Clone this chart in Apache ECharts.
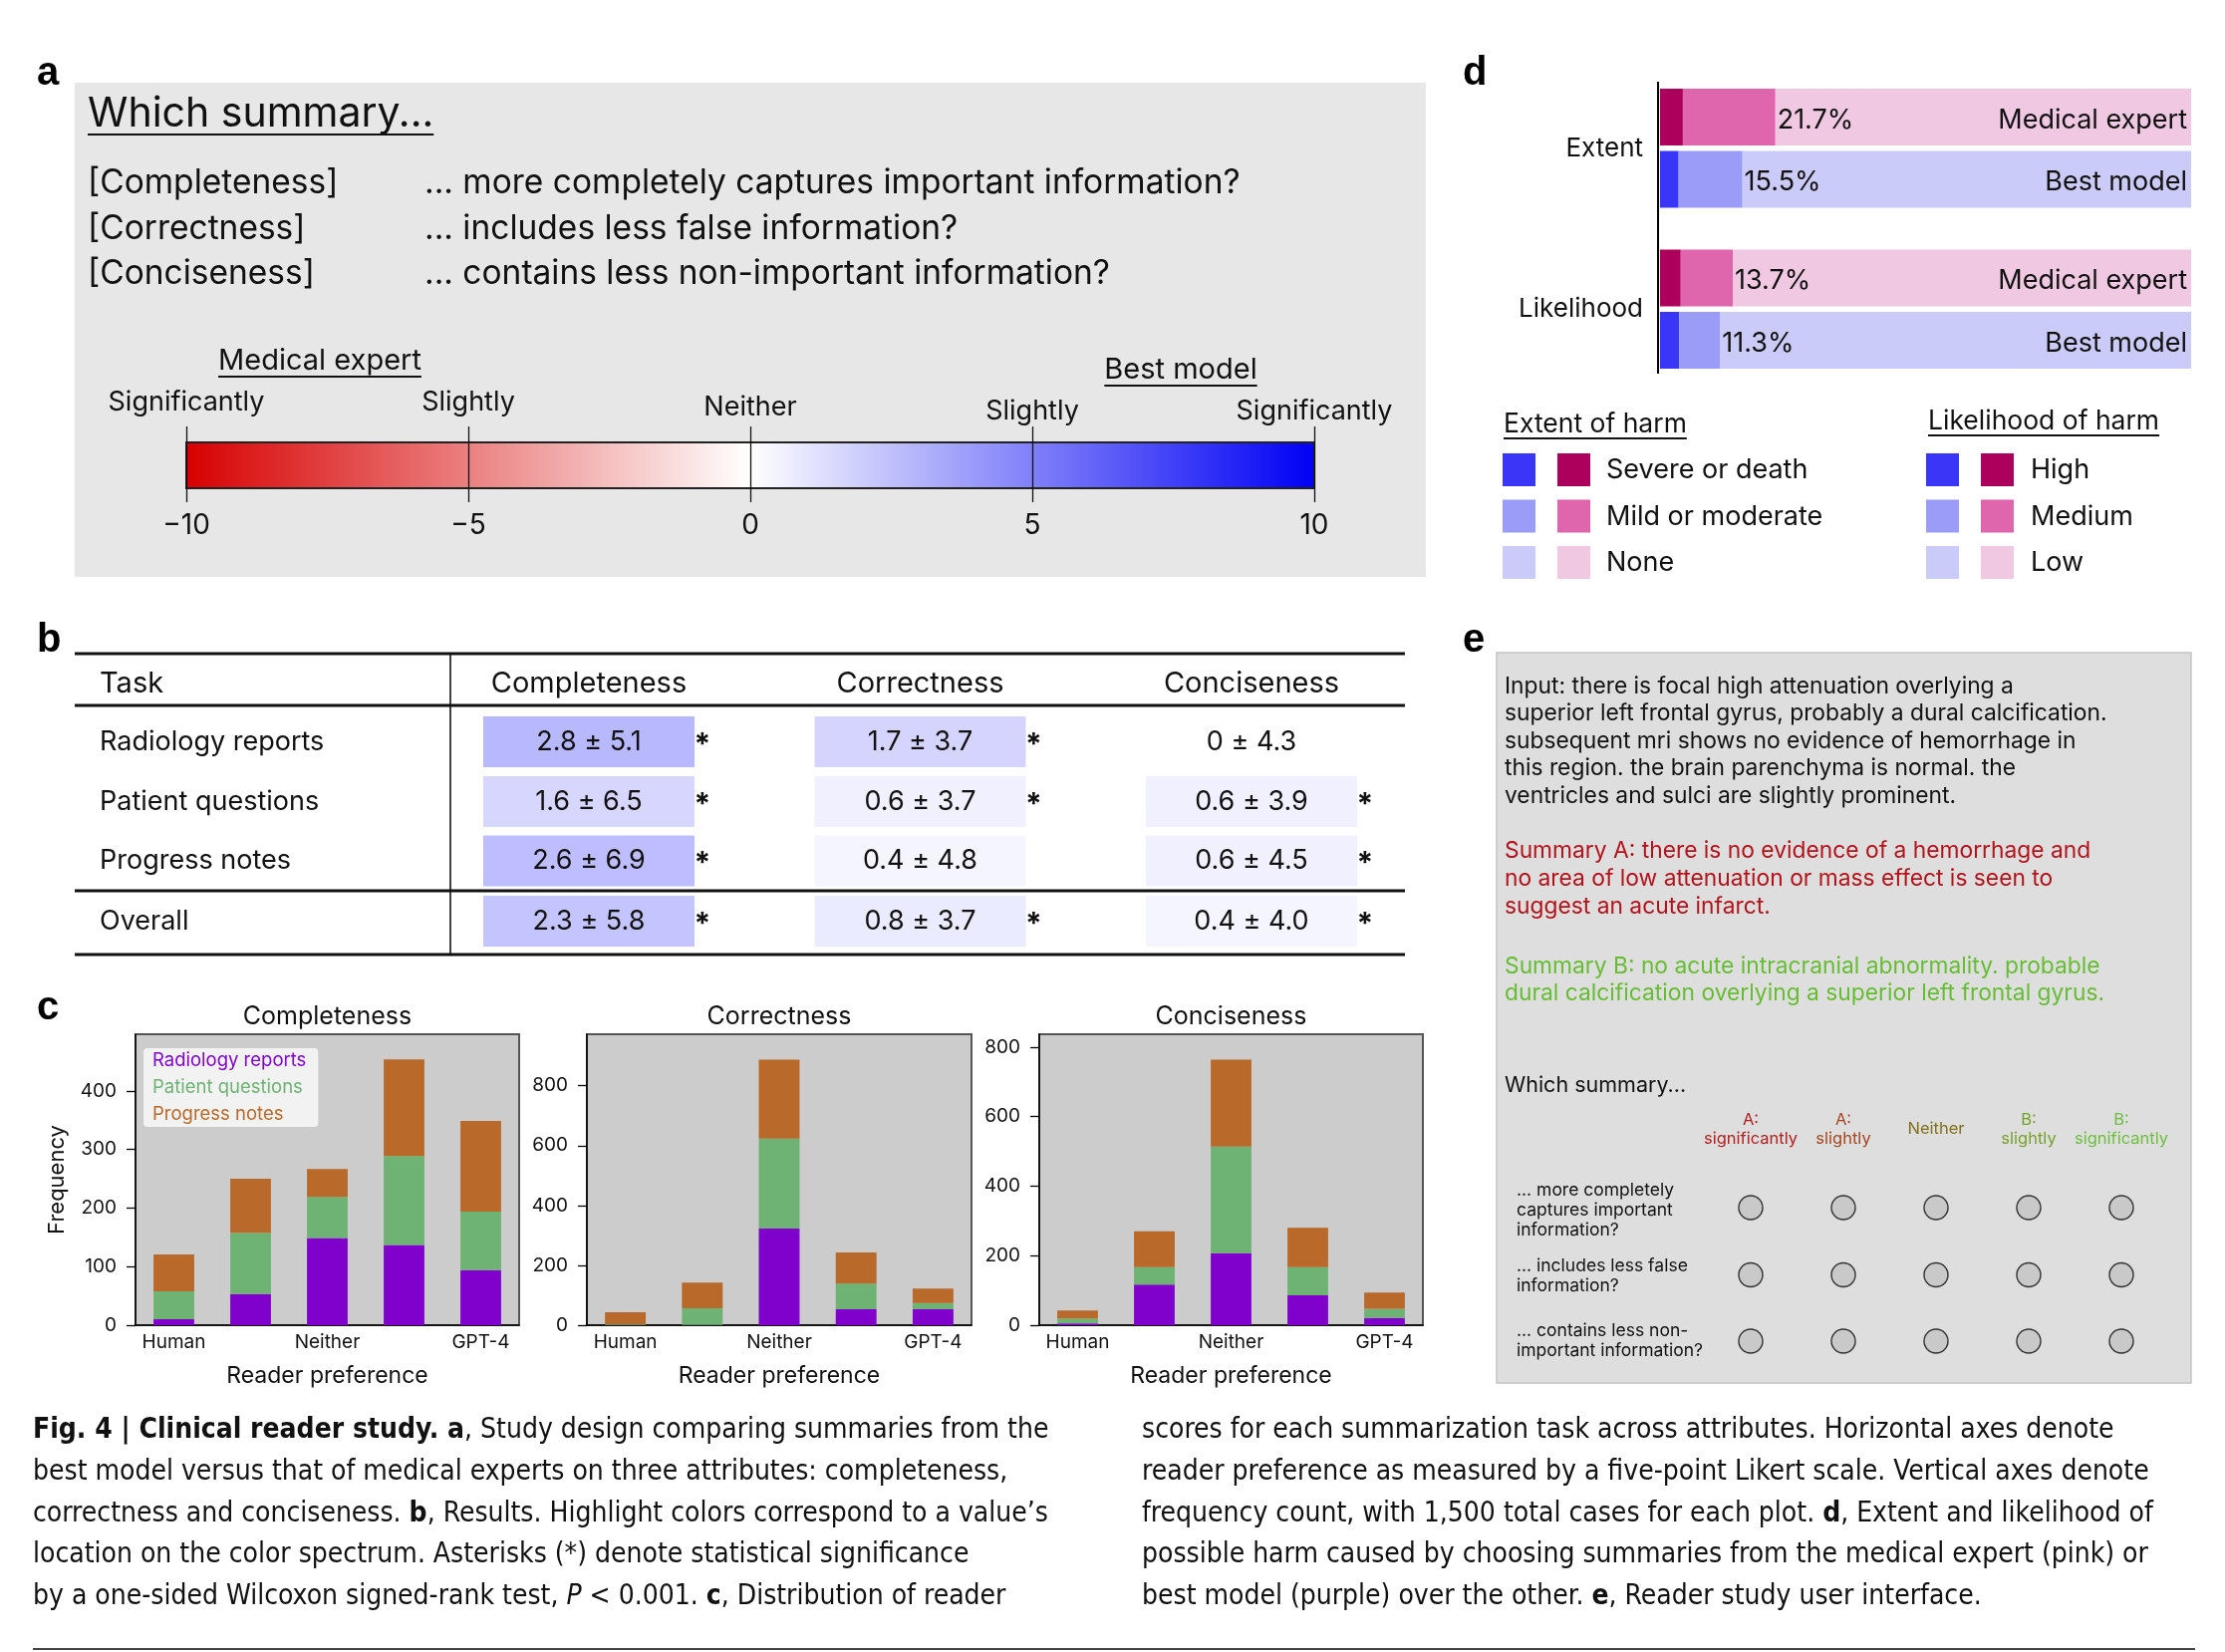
<!DOCTYPE html>
<html><head><meta charset="utf-8">
<script src="https://cdn.jsdelivr.net/npm/echarts@6/dist/echarts.min.js"></script>
<style>html,body{margin:0;padding:0;background:#fff}#chart{width:2233px;height:1658px}</style>
</head><body><div id="chart"></div>
<script>
// ---------------- DATA ----------------
// panel c : reader preference (5-point Likert) counts
const likertCategories = ['Human', 'Human (slightly)', 'Neither', 'GPT-4 (slightly)', 'GPT-4'];
const taskNames = ['Radiology reports', 'Patient questions', 'Progress notes'];
const attributeNames = ['Completeness', 'Correctness', 'Conciseness'];
const completenessRadiology = [10, 53, 149, 137, 94];
const completenessPatient   = [48, 105, 70, 152, 100];
const completenessProgress  = [63, 92, 48, 165, 155];
const correctnessRadiology  = [1, 1, 323, 53, 53];
const correctnessPatient    = [2, 56, 300, 86, 21];
const correctnessProgress   = [40, 85, 264, 104, 48];
const concisenessRadiology  = [5, 117, 207, 86, 21];
const concisenessPatient    = [14, 50, 307, 81, 26];
const concisenessProgress   = [23, 103, 250, 113, 47];

// panel b : mean ± sd of reader scores, and significance
const tableRowLabels = ['Radiology reports', 'Patient questions', 'Progress notes', 'Overall'];
const completenessMean = [2.8, 1.6, 2.6, 2.3];
const completenessSd   = [5.1, 6.5, 6.9, 5.8];
const completenessSig  = [true, true, true, true];
const correctnessMean  = [1.7, 0.6, 0.4, 0.8];
const correctnessSd    = [3.7, 3.7, 4.8, 3.7];
const correctnessSig   = [true, true, false, true];
const concisenessMean  = [0, 0.6, 0.6, 0.4];
const concisenessSd    = [4.3, 3.9, 4.5, 4.0];
const concisenessSig   = [false, true, true, true];

// panel a : colour scale
const scaleRange = [-10, 10];
const scaleTopLabels = ['Significantly', 'Slightly', 'Neither', 'Slightly', 'Significantly'];
const scaleTopValues = [-10, -5, 0, 5, 10];

// panel d : harm (percent of cases)
const harmMetrics = ['Extent', 'Likelihood'];
const expertSevere = [4.3, 3.9];
const expertMild   = [17.4, 9.8];
const expertNone   = [78.3, 86.3];
const modelSevere  = [3.5, 3.6];
const modelMild    = [12.0, 7.7];
const modelNone    = [84.5, 88.7];
const expertHarmLabels = ['21.7%', '13.7%'];
const modelHarmLabels  = ['15.5%', '11.3%'];
const extentLevels = ['Severe or death', 'Mild or moderate', 'None'];
const likelihoodLevels = ['High', 'Medium', 'Low'];

// ---------------- STYLE ----------------
const FF = 'Inter, "Noto Sans", sans-serif';
const CAP = '"Liberation Sans Narrow", "DejaVu Sans Condensed", "Roboto Condensed", sans-serif';
const LBL = '"Liberation Sans", Arial, sans-serif';
const TASK_COLORS = ['#8000cc', '#6eb274', '#b9692a'];
const BLUES = ['#3a36f7', '#9b9bf8', '#cbcbf9'];
const PINKS = ['#ac005c', '#df66ad', '#f0c8e2'];
const INK = '#111';

const mctx = document.createElement('canvas').getContext('2d');
function tw(text, size, weight, family) { mctx.font = (weight || 'normal') + ' ' + size + 'px ' + (family || FF); return mctx.measureText(text).width; }

const G = [];
function T(x, y, text, size, o) {
  o = o || {};
  G.push({ type: 'text', x: x, y: y, z: o.z || 20, style: {
    text: text, fill: o.color || INK, fontSize: size, fontFamily: o.family || FF,
    fontWeight: o.weight || 'normal', fontStyle: o.style || 'normal',
    align: o.align || 'left', verticalAlign: o.va || 'middle', rich: o.rich } });
}
function R(x, y, w, h, fill, o) {
  o = o || {};
  G.push({ type: 'rect', z: o.z || 1, shape: { x: x, y: y, width: w, height: h, r: o.r || 0 },
    style: { fill: fill, stroke: o.stroke || null, lineWidth: o.lw || 0 } });
}
function L(x1, y1, x2, y2, w, c, z) {
  G.push({ type: 'line', z: z || 15, shape: { x1: x1, y1: y1, x2: x2, y2: y2 }, style: { stroke: c || INK, lineWidth: w } });
}
function underlined(x, y, text, size, align, gap) {
  T(x, y, text, size, { align: align });
  const w = tw(text, size);
  const x0 = align === 'center' ? x - w / 2 : x;
  L(x0, y + gap, x0 + w, y + gap, 2);
}
function scaleColor(v) {
  const t = Math.min(1, Math.abs(v) / 10);
  const c = Math.round(255 * (1 - t));
  return v >= 0 ? 'rgb(' + c + ',' + c + ',255)' : 'rgb(' + (255 - Math.round(40 * t)) + ',' + c + ',' + c + ')';
}

// panel letters
[['a', 37, 74], ['b', 37, 643], ['c', 37, 1012], ['d', 1468, 74], ['e', 1468, 643]].forEach(function (p) {
  T(p[1], p[2], p[0], 40, { weight: 'bold', family: LBL, color: '#000' });
});

// ---------------- PANEL a ----------------
const SC_LEFT = 187, SC_W = 1132;
R(75, 83, 1356, 496, '#e7e7e7', { z: 0 });
underlined(88, 115, 'Which summary...', 41, 'left', 20);
const aLeft = ['[Completeness]', '[Correctness]', '[Conciseness]'];
const aRight = ['... more completely captures important information?', '... includes less false information?', '... contains less non-important information?'];
[184, 230, 275].forEach(function (y, i) { T(88, y, aLeft[i], 33.5); T(426, y, aRight[i], 33.5); });
underlined(321, 362, 'Medical expert', 29, 'center', 16);
underlined(1185, 371, 'Best model', 29, 'center', 16);
const scalePx = function (v) { return SC_LEFT + (v - scaleRange[0]) / (scaleRange[1] - scaleRange[0]) * SC_W; };
const topLabelY = [404, 404, 409, 413, 413];
scaleTopLabels.forEach(function (t, i) { T(scalePx(scaleTopValues[i]), topLabelY[i], t, 27, { align: 'center' }); });

// ---------------- PANEL b ----------------
const TB_R = 1410;
L(75, 656, TB_R, 656, 3); L(75, 708, TB_R, 708, 3); L(75, 894, TB_R, 894, 3); L(75, 958, TB_R, 958, 3);
L(452, 656, 452, 958, 1.6);
T(100, 686, 'Task', 29);
const colX = [591, 923.5, 1256];
const rowY = [744.5, 804.5, 864, 924.5];
attributeNames.forEach(function (a, i) { T(colX[i], 686, a, 29, { align: 'center' }); });
tableRowLabels.forEach(function (r, j) { T(100, rowY[j], r, 27); });
const tableCols = [[completenessMean, completenessSd, completenessSig], [correctnessMean, correctnessSd, correctnessSig], [concisenessMean, concisenessSd, concisenessSig]];
tableCols.forEach(function (col, i) {
  col[0].forEach(function (m, j) {
    R(colX[i] - 106, rowY[j] - 25.5, 212, 51, scaleColor(m), { z: 1 });
    T(colX[i], rowY[j], (m === 0 ? '0' : m.toFixed(1)) + ' ± ' + col[1][j].toFixed(1), 27, { align: 'center' });
    if (col[2][j]) T(colX[i] + 114, rowY[j] + 3, '*', 30, { weight: 'bold', align: 'center' });
  });
});

// ---------------- PANEL c ----------------
const cLeft = [136, 589, 1043], cWidth = [385, 386, 385];
attributeNames.forEach(function (a, i) { T(cLeft[i] + cWidth[i] / 2, 1020, a, 25, { align: 'center' }); });

// ---------------- PANEL d ----------------
L(1664, 82, 1664, 375, 2, '#000');
underlined(1509, 426, 'Extent of harm', 26.5, 'left', 14);
underlined(1935, 423, 'Likelihood of harm', 26.5, 'left', 14);
[0, 1, 2].forEach(function (k) {
  const y = 455 + k * 46.5;
  R(1508, y, 33, 33, BLUES[k]); R(1563, y, 33, 33, PINKS[k]); T(1612, y + 17, extentLevels[k], 27);
  R(1933, y, 33, 33, BLUES[k]); R(1988, y, 33, 33, PINKS[k]); T(2038, y + 17, likelihoodLevels[k], 27);
});

// ---------------- PANEL e ----------------
R(1502, 655, 697, 733, '#dedede', { z: 0, stroke: '#c4c4c4', lw: 1.5 });
const inputLines = ['Input: there is focal high attenuation overlying a', 'superior left frontal gyrus, probably a dural calcification.', 'subsequent mri shows no evidence of hemorrhage in', 'this region. the brain parenchyma is normal. the', 'ventricles and sulci are slightly prominent.'];
const summaryA = ['Summary A: there is no evidence of a hemorrhage and', 'no area of low attenuation or mass effect is seen to', 'suggest an acute infarct.'];
const summaryB = ['Summary B: no acute intracranial abnormality. probable', 'dural calcification overlying a superior left frontal gyrus.'];
inputLines.forEach(function (t, i) { T(1510, 689 + i * 27.5, t, 22.8); });
summaryA.forEach(function (t, i) { T(1510, 854 + i * 28, t, 22.8, { color: '#b3121b' }); });
summaryB.forEach(function (t, i) { T(1510, 970 + i * 27.5, t, 22.8, { color: '#66bd33' }); });
T(1510, 1090, 'Which summary...', 21.5);
const eColX = [1757, 1850, 1943, 2036, 2129];
const eHeads = [['A:', 'significantly'], ['A:', 'slightly'], ['Neither'], ['B:', 'slightly'], ['B:', 'significantly']];
const eHeadColors = ['#b01e1e', '#a3461f', '#80701a', '#76a12a', '#6cbf3c'];
eHeads.forEach(function (h, i) {
  if (h.length === 2) { T(eColX[i], 1124, h[0], 16.5, { align: 'center', color: eHeadColors[i] }); T(eColX[i], 1143, h[1], 16.5, { align: 'center', color: eHeadColors[i] }); }
  else T(eColX[i], 1133, h[0], 16.5, { align: 'center', color: eHeadColors[i] });
});
const eQuestions = [['... more completely', 'captures important', 'information?'], ['... includes less false', 'information?'], ['... contains less non-', 'important information?']];
const eQStart = [1195, 1271, 1336];
const eRowY = [1212, 1279.5, 1346];
eQuestions.forEach(function (q, r) {
  q.forEach(function (t, k) { T(1522, eQStart[r] + k * 20, t, 17.5); });
  eColX.forEach(function (x) {
    G.push({ type: 'circle', z: 5, shape: { cx: x, cy: eRowY[r], r: 12 }, style: { fill: '#c9c9c9', stroke: '#333', lineWidth: 1.4 } });
  });
});

// ---------------- CAPTION ----------------
const capSize = 28;
const capRich = {
  b: { fontWeight: 'bold', fontSize: capSize, fontFamily: CAP, fill: INK },
  i: { fontStyle: 'italic', fontSize: capSize, fontFamily: CAP, fill: INK }
};
const capLeft = [
  '{b|Fig. 4 | Clinical reader study. a}, Study design comparing summaries from the',
  'best model versus that of medical experts on three attributes: completeness,',
  'correctness and conciseness. {b|b}, Results. Highlight colors correspond to a value’s',
  'location on the color spectrum. Asterisks (*) denote statistical significance',
  'by a one-sided Wilcoxon signed-rank test, {i|P} < 0.001. {b|c}, Distribution of reader'
];
const capRight = [
  'scores for each summarization task across attributes. Horizontal axes denote',
  'reader preference as measured by a five-point Likert scale. Vertical axes denote',
  'frequency count, with 1,500 total cases for each plot. {b|d}, Extent and likelihood of',
  'possible harm caused by choosing summaries from the medical expert (pink) or',
  'best model (purple) over the other. {b|e}, Reader study user interface.'
];
const capY = [1436, 1478, 1520, 1561, 1603];
capLeft.forEach(function (t, i) { T(33, capY[i], t, capSize, { family: CAP, rich: capRich }); });
capRight.forEach(function (t, i) { T(1146, capY[i], t, capSize, { family: CAP, rich: capRich }); });
L(33, 1655, 2203, 1655, 2, '#444');

// ---------------- SERIES ----------------
const cSets = [[completenessRadiology, completenessPatient, completenessProgress],
               [correctnessRadiology, correctnessPatient, correctnessProgress],
               [concisenessRadiology, concisenessPatient, concisenessProgress]];
const cMax = [497, 972, 837], cInterval = [100, 200, 200];
const series = [];
series.push({
  type: 'custom', name: 'scale', xAxisIndex: 0, yAxisIndex: 0, z: 2,
  data: [scaleRange],
  renderItem: function (params, api) {
    const p0 = api.coord([api.value(0), 1]);
    const p1 = api.coord([api.value(1), 0]);
    return { type: 'rect', shape: { x: p0[0], y: p0[1], width: p1[0] - p0[0], height: p1[1] - p0[1] },
      style: { fill: new echarts.graphic.LinearGradient(0, 0, 1, 0, [
        { offset: 0, color: '#d70000' }, { offset: 0.5, color: '#ffffff' }, { offset: 1, color: '#0000f5' }]),
        stroke: '#222', lineWidth: 2 } };
  }
});
cSets.forEach(function (set, k) {
  set.forEach(function (arr, j) {
    series.push({ type: 'bar', name: taskNames[j], xAxisIndex: 2 + k, yAxisIndex: 1 + k, stack: 'c' + k,
      barWidth: '53%', data: arr, itemStyle: { color: TASK_COLORS[j] } });
  });
});
const lbl = { fontSize: 27, color: INK, fontFamily: FF };
function dSeries(name, stack, data, color, label, z) {
  return { type: 'bar', name: name, stack: stack, xAxisIndex: 5, yAxisIndex: 4, barWidth: 57, barGap: '10%',
    data: data, itemStyle: { color: color }, label: label, z: z || 2 };
}
series.push(dSeries('Expert severe', 'expert', expertSevere, PINKS[0]));
series.push(dSeries('Expert mild', 'expert', expertMild, PINKS[1], Object.assign({ show: true, position: 'right', distance: 2, offset: [0, 3], formatter: function (p) { return expertHarmLabels[p.dataIndex]; } }, lbl), 4));
series.push(dSeries('Expert none', 'expert', expertNone, PINKS[2], Object.assign({ show: true, position: 'insideRight', distance: 4, offset: [0, 3], formatter: 'Medical expert' }, lbl), 3));
series.push(dSeries('Model severe', 'model', modelSevere, BLUES[0]));
series.push(dSeries('Model mild', 'model', modelMild, BLUES[1], Object.assign({ show: true, position: 'right', distance: 2, offset: [0, 3], formatter: function (p) { return modelHarmLabels[p.dataIndex]; } }, lbl), 4));
series.push(dSeries('Model none', 'model', modelNone, BLUES[2], Object.assign({ show: true, position: 'insideRight', distance: 4, offset: [0, 3], formatter: 'Best model' }, lbl), 3));

const axisBlack = { lineStyle: { color: '#000', width: 1.5 } };
const cGrid = function (i) { return { left: cLeft[i], top: 1038, width: cWidth[i], height: 292, show: true, backgroundColor: '#cccccc', borderColor: '#555', borderWidth: 2, outerBoundsMode: 'none' }; };
const xAxes = [
  { gridIndex: 0, type: 'value', min: scaleRange[0], max: scaleRange[1], interval: 5, position: 'bottom', z: 10,
    axisLine: { show: false }, axisTick: { show: true, length: 14, lineStyle: { color: INK, width: 1.3 } },
    axisLabel: { fontSize: 28, color: INK, margin: 24, fontFamily: FF, formatter: function (v) { return v < 0 ? '−' + Math.abs(v) : String(v); } },
    splitLine: { show: true, lineStyle: { color: INK, width: 1.3 } } },
  { gridIndex: 0, type: 'value', min: scaleRange[0], max: scaleRange[1], interval: 5, position: 'top', z: 10,
    axisLine: { show: false }, axisTick: { show: true, length: 16, lineStyle: { color: INK, width: 1.3 } },
    axisLabel: { show: false }, splitLine: { show: false } }
];
const yAxes = [{ gridIndex: 0, type: 'value', min: 0, max: 1, show: false }];
[0, 1, 2].forEach(function (k) {
  xAxes.push({ gridIndex: 1 + k, type: 'category', data: likertCategories, axisLine: axisBlack, axisTick: { show: false },
    axisLabel: { interval: 1, fontSize: 19, color: INK, margin: 8, fontFamily: FF },
    name: 'Reader preference', nameLocation: 'middle', nameGap: 40, nameTextStyle: { fontSize: 23, color: INK, fontFamily: FF } });
  yAxes.push(Object.assign({ gridIndex: 1 + k, type: 'value', min: 0, max: cMax[k], interval: cInterval[k],
    axisLine: Object.assign({ show: true }, axisBlack), axisTick: { show: true, length: 9, lineStyle: { color: '#000', width: 1.3 } },
    axisLabel: { fontSize: 19, color: INK, margin: 19, showMaxLabel: false, fontFamily: FF }, splitLine: { show: false } },
    k === 0 ? { name: 'Frequency', nameLocation: 'middle', nameGap: 68, nameTextStyle: { fontSize: 22, color: INK, fontFamily: FF } } : {}));
});
xAxes.push({ gridIndex: 4, type: 'value', min: 0, max: 100, show: false });
yAxes.push({ gridIndex: 4, type: 'category', data: harmMetrics, inverse: true, axisLine: { show: false }, axisTick: { show: false },
  axisLabel: { fontSize: 26, color: INK, margin: 17, fontFamily: FF } });

const chart = echarts.init(document.getElementById('chart'), null, { renderer: 'canvas' });
chart.setOption({
  animation: false,
  backgroundColor: '#ffffff',
  textStyle: { fontFamily: FF },
  grid: [
    { left: SC_LEFT, top: 444, width: SC_W, height: 46, outerBoundsMode: 'none' },
    cGrid(0), cGrid(1), cGrid(2),
    { left: 1666, top: 68, width: 533, height: 323, outerBoundsMode: 'none' }
  ],
  xAxis: xAxes,
  yAxis: yAxes,
  legend: {
    data: taskNames.map(function (n, j) { return { name: n, textStyle: { color: TASK_COLORS[j] } }; }),
    orient: 'vertical', left: 144, top: 1052, itemWidth: 0, itemHeight: 0, itemGap: 8,
    padding: [3, 12, 3, 4], backgroundColor: 'rgba(243,243,243,0.95)', borderRadius: 4, selectedMode: false,
    textStyle: { fontSize: 18.5, fontFamily: FF }
  },
  series: series,
  graphic: { elements: G }
});
</script></body></html>
